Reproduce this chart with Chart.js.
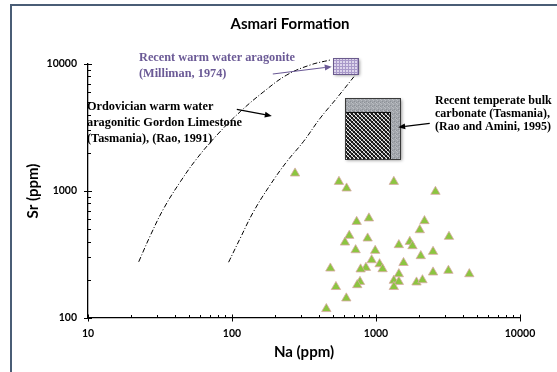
<!DOCTYPE html>
<html><head><meta charset="utf-8">
<script src="https://cdn.jsdelivr.net/npm/chart.js@4.4.1/dist/chart.umd.min.js"></script>
<style>html,body{margin:0;padding:0;background:#fff;}canvas{display:block}</style>
</head><body>
<canvas id="c" width="557" height="372"></canvas>
<script>
// ---- data ----
const naValues = [274, 553, 625, 1330, 2587, 734, 893, 2171, 2014, 652, 609, 875, 3213, 1441, 1717, 1792, 722, 987, 2490, 2046, 933, 1553, 1059, 1111, 851, 782, 482, 1441, 2490, 3184, 4447, 774, 741, 527, 1330, 1441, 1330, 1911, 2102, 622, 452];
const srValues = [1378, 1184, 1050, 1184, 988, 573, 610, 581, 493, 445, 394, 424, 437, 376, 399, 369, 343, 339, 333, 308, 286, 272, 266, 243, 249, 242, 246, 222, 229, 236, 222, 193, 182, 176, 197, 193, 176, 191, 199, 143, 118];
const ordovicianNa = [22.5, 27.2, 33.6, 43.8, 57.2, 78.7, 114, 166, 240, 349, 480];
const ordovicianSr = [277, 450, 730, 1184, 1809, 2761, 4210, 6050, 8190, 9820, 10750];
const envelopeNa = [94.7, 114, 141, 184, 240, 313, 409, 533, 734];
const envelopeSr = [275, 424, 687, 1115, 1702, 2445, 3735, 5370, 8452];
const aragoniteBoxNa = [505, 753];
const aragoniteBoxSr = [8340, 11090];
const temperateOuterNa = [609, 1479];
const temperateOuterSr = [1786, 5370];
const temperateInnerNa = [609, 1247];
const temperateInnerSr = [1786, 4207];
const xTickLabels = [10, 100, 1000, 10000];
const yTickLabels = [100, 1000, 10000];
const titleText = 'Asmari Formation';
const xTitle = 'Na (ppm)';
const yTitle = 'Sr (ppm)';
const aragoniteText = ['Recent warm water aragonite', '(Milliman, 1974)'];
const ordovicianText = ['Ordovician warm water', 'aragonitic Gordon Limestone', '(Tasmania), (Rao, 1991)'];
const temperateText = ['Recent temperate bulk', 'carbonate (Tasmania),', '(Rao and Amini, 1995)'];
// arrows [fromNa, fromSr, toNa, toSr]
const aragoniteArrow = [192, 8340, 493, 9530];
const ordovicianArrow = [108, 4395, 189, 3900];
const temperateArrow = [2361, 3412, 1425, 3177];

const purple = '#6b5a96';

function logTicks(min, max) {
  const out = [];
  for (let d = min; d < max; d *= 10) {
    for (let m = 1; m <= 9; m++) out.push({value: d * m, major: m === 1});
  }
  out.push({value: max, major: true});
  return out;
}

function makePattern(w, h, draw) {
  const c = document.createElement('canvas'); c.width = w; c.height = h;
  const g = c.getContext('2d'); draw(g);
  return c;
}
const gridTile = makePattern(3, 3, g => {
  g.fillStyle = '#ddd5ec'; g.fillRect(0, 0, 3, 3);
  g.fillStyle = '#a999c9'; g.fillRect(0, 0, 3, 1); g.fillRect(0, 0, 1, 3);
});
const grayTile = makePattern(4, 4, g => {
  g.fillStyle = '#a2a6ac'; g.fillRect(0, 0, 4, 4);
  g.fillStyle = '#babdc2'; g.fillRect(1, 0, 1, 1); g.fillRect(3, 2, 1, 1); g.fillRect(0, 3, 1, 1);
  g.fillStyle = '#8c9096'; g.fillRect(2, 1, 1, 1); g.fillRect(0, 2, 1, 1);
});
const hatchTile = makePattern(4, 4, g => {
  g.fillStyle = '#151515'; g.fillRect(0, 0, 4, 4);
  for (let i = 0; i < 4; i++) {
    g.fillStyle = '#f4f4f4'; g.fillRect(i, i, 1, 1);
    g.fillStyle = '#7a7a7a'; g.fillRect(i, 3 - i, 1, 1);
  }
});

function arrow(ctx, x1, y1, x2, y2, color) {
  ctx.save();
  ctx.strokeStyle = color; ctx.fillStyle = color; ctx.lineWidth = 1.2;
  const a = Math.atan2(y2 - y1, x2 - x1);
  const L = 7, W = 3;
  const bx = x2 - Math.cos(a) * L, by = y2 - Math.sin(a) * L;
  ctx.beginPath(); ctx.moveTo(x1, y1); ctx.lineTo(bx, by); ctx.stroke();
  ctx.beginPath();
  ctx.moveTo(x2, y2);
  ctx.lineTo(bx + Math.sin(a) * W, by - Math.cos(a) * W);
  ctx.lineTo(bx - Math.sin(a) * W, by + Math.cos(a) * W);
  ctx.closePath(); ctx.fill();
  ctx.restore();
}

const decorPlugin = {
  id: 'decor',
  beforeDraw(chart) {
    const ctx = chart.ctx;
    ctx.save();
    ctx.fillStyle = '#fff'; ctx.fillRect(0, 0, chart.width, chart.height);
    ctx.strokeStyle = '#4a5d76'; ctx.lineWidth = 2;
    ctx.beginPath(); ctx.moveTo(11, chart.height + 2); ctx.lineTo(11, 5); ctx.lineTo(chart.width + 2, 5); ctx.stroke();
    ctx.restore();
  },
  afterDatasetsDraw(chart) {
    const ctx = chart.ctx, xs = chart.scales.x, ys = chart.scales.y;
    const X = v => xs.getPixelForValue(v), Y = v => ys.getPixelForValue(v);
    ctx.save();
    // aragonite box
    let x0 = X(aragoniteBoxNa[0]), x1 = X(aragoniteBoxNa[1]), y0 = Y(aragoniteBoxSr[1]), y1 = Y(aragoniteBoxSr[0]);
    ctx.save();
    ctx.shadowColor = 'rgba(0,0,0,0.4)'; ctx.shadowBlur = 3; ctx.shadowOffsetX = 1.5; ctx.shadowOffsetY = 1.5;
    ctx.fillStyle = ctx.createPattern(gridTile, 'repeat');
    ctx.fillRect(x0, y0, x1 - x0, y1 - y0);
    ctx.restore();
    ctx.strokeStyle = '#6a5a8c'; ctx.lineWidth = 1;
    ctx.strokeRect(Math.round(x0) + 0.5, Math.round(y0) + 0.5, Math.round(x1 - x0), Math.round(y1 - y0));
    // temperate outer
    x0 = X(temperateOuterNa[0]); x1 = X(temperateOuterNa[1]); y0 = Y(temperateOuterSr[1]); y1 = Y(temperateOuterSr[0]);
    ctx.save();
    ctx.shadowColor = 'rgba(0,0,0,0.4)'; ctx.shadowBlur = 3; ctx.shadowOffsetX = 1.5; ctx.shadowOffsetY = 1.5;
    ctx.fillStyle = ctx.createPattern(grayTile, 'repeat');
    ctx.fillRect(x0, y0, x1 - x0, y1 - y0);
    ctx.restore();
    // inner hatched
    const ix0 = X(temperateInnerNa[0]), ix1 = X(temperateInnerNa[1]), iy0 = Y(temperateInnerSr[1]), iy1 = Y(temperateInnerSr[0]);
    ctx.fillStyle = ctx.createPattern(hatchTile, 'repeat');
    ctx.fillRect(ix0, iy0, ix1 - ix0, iy1 - iy0);
    ctx.strokeStyle = '#111'; ctx.lineWidth = 1;
    ctx.strokeRect(Math.round(ix0) + 0.5, Math.round(iy0) + 0.5, Math.round(ix1 - ix0), Math.round(iy1 - iy0));
    ctx.strokeStyle = '#3a3a3a';
    ctx.strokeRect(Math.round(x0) + 0.5, Math.round(y0) + 0.5, Math.round(x1 - x0), Math.round(y1 - y0));
    // arrows
    arrow(ctx, X(aragoniteArrow[0]), Y(aragoniteArrow[1]), X(aragoniteArrow[2]), Y(aragoniteArrow[3]), purple);
    arrow(ctx, X(ordovicianArrow[0]), Y(ordovicianArrow[1]), X(ordovicianArrow[2]), Y(ordovicianArrow[3]), '#000');
    arrow(ctx, X(temperateArrow[0]), Y(temperateArrow[1]), X(temperateArrow[2]), Y(temperateArrow[3]), '#000');
    // texts
    ctx.textBaseline = 'middle'; ctx.textAlign = 'left';
    ctx.font = 'bold 12.3px "Liberation Serif"';
    ctx.fillStyle = purple;
    aragoniteText.forEach((t, i) => ctx.fillText(t, 139, 57.5 + i * 16.5));
    ctx.fillStyle = '#000';
    ordovicianText.forEach((t, i) => ctx.fillText(t, 87, 106.5 + i * 16.3));
    ctx.font = 'bold 12px "Liberation Serif"';
    temperateText.forEach((t, i) => ctx.fillText(t, 435, 101 + i * 13.2));
    ctx.restore();
  },
  afterDraw(chart) {
    const ctx = chart.ctx, xs = chart.scales.x, ys = chart.scales.y;
    const {left, bottom} = chart.chartArea;
    ctx.save();
    ctx.strokeStyle = '#000'; ctx.lineWidth = 1;
    xs.ticks.forEach(t => {
      const p = Math.round(xs.getPixelForValue(t.value)) + 0.5;
      ctx.beginPath();
      if (xTickLabels.includes(t.value)) { ctx.moveTo(p, bottom + 3.5); ctx.lineTo(p, bottom - 3.5); }
      else { ctx.moveTo(p, bottom); ctx.lineTo(p, bottom - 3); }
      ctx.stroke();
    });
    ys.ticks.forEach(t => {
      const p = Math.round(ys.getPixelForValue(t.value)) + 0.5;
      ctx.beginPath();
      if (yTickLabels.includes(t.value)) { ctx.moveTo(left - 4, p); ctx.lineTo(left + 4, p); }
      else { ctx.moveTo(left, p); ctx.lineTo(left + 3, p); }
      ctx.stroke();
    });
    ctx.fillStyle = '#000';
    ctx.font = 'bold 15px Lato';
    ctx.textAlign = 'center'; ctx.textBaseline = 'middle';
    ctx.fillText(titleText, 290, 24.5);
    ctx.restore();
  }
};

const scatterData = naValues.map((x, i) => ({x, y: srValues[i]}));
const curve1 = ordovicianNa.map((x, i) => ({x, y: ordovicianSr[i]}));
const curve2 = envelopeNa.map((x, i) => ({x, y: envelopeSr[i]}));

new Chart(document.getElementById('c'), {
  type: 'scatter',
  data: {
    datasets: [
      {data: curve1, showLine: true, borderColor: '#000', borderWidth: 1, borderDash: [5, 2, 1, 2], pointRadius: 0, tension: 0.4, clip: false, fill: false},
      {data: curve2, showLine: true, borderColor: '#000', borderWidth: 1, borderDash: [5, 2, 1, 2], pointRadius: 0, tension: 0.4, clip: false, fill: false},
      {data: scatterData, pointStyle: 'triangle', pointRadius: 5.4, pointBackgroundColor: '#8cc540', pointBorderColor: '#d9aaa6', pointBorderWidth: 0.8, showLine: false}
    ]
  },
  options: {
    responsive: false, animation: false, devicePixelRatio: 1,
    layout: {padding: {top: 64, right: 37, left: 0, bottom: 0}},
    plugins: {legend: {display: false}, tooltip: {enabled: false}, title: {display: false}},
    scales: {
      x: {
        type: 'logarithmic', min: 10, max: 10000, position: 'bottom',
        afterBuildTicks: s => { s.ticks = logTicks(10, 10000); },
        afterFit: s => { s.height = 54; },
        grid: {display: true, drawOnChartArea: false, drawTicks: false, color: 'rgba(0,0,0,0)'},
        border: {display: true, color: '#000', width: 1.3},
        ticks: {autoSkip: false, maxRotation: 0, padding: 9, color: '#000', font: {family: 'Lato', weight: 'bold', size: 10.5},
          callback: v => xTickLabels.includes(v) ? String(v) : ''},
        title: {display: true, text: xTitle, color: '#000', font: {family: 'Lato', weight: 'bold', size: 15}, padding: {top: 0, bottom: 11}}
      },
      y: {
        type: 'logarithmic', min: 100, max: 10000, position: 'left',
        afterBuildTicks: s => { s.ticks = logTicks(100, 10000); },
        afterFit: s => { s.width = 88; },
        grid: {display: true, drawOnChartArea: false, drawTicks: false, color: 'rgba(0,0,0,0)'},
        border: {display: true, color: '#000', width: 1.3},
        ticks: {autoSkip: false, padding: 11, color: '#000', font: {family: 'Lato', weight: 'bold', size: 10.5},
          callback: v => yTickLabels.includes(v) ? String(v) : ''},
        title: {display: true, text: yTitle, color: '#000', font: {family: 'Lato', weight: 'bold', size: 15}, padding: {top: 24, bottom: 0}}
      }
    }
  },
  plugins: [decorPlugin]
});
</script>
</body></html>
